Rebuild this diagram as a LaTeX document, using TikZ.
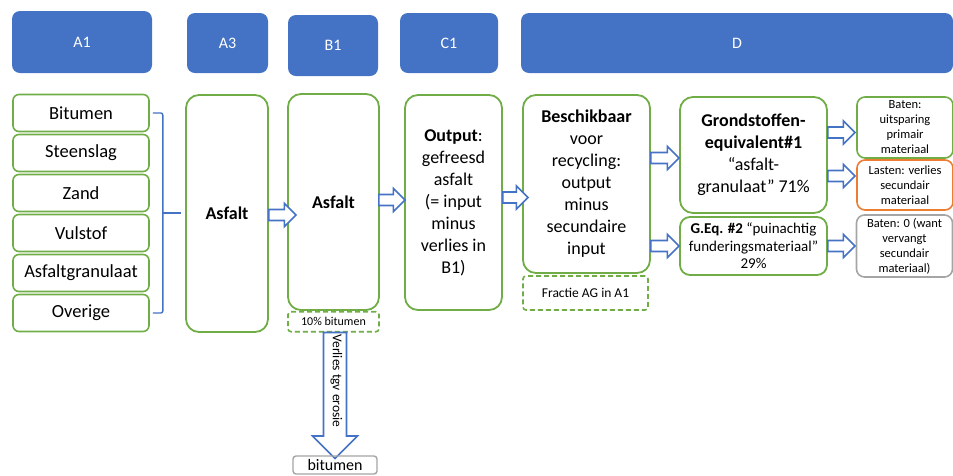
\documentclass[tikz,border=0pt]{standalone}
\usepackage{fontspec}
\setmainfont{Carlito}
\usepackage{tikz}
\usetikzlibrary{positioning,calc}
\definecolor{hdrblue}{HTML}{4472C4}
\definecolor{boxgreen}{HTML}{70AD47}
\definecolor{lastorange}{HTML}{ED7D31}
\definecolor{restgrey}{HTML}{A5A5A5}

\tikzset{
  pics/blockarrow/.style n args={3}{code={
    \draw[draw=hdrblue, fill=white, line width=1.6pt]
      (0,-#2) -- ({#1-#3},-#2) -- ({#1-#3},-#3) -- (#1,0) -- ({#1-#3},#3) -- ({#1-#3},#2) -- (0,#2) -- cycle;
  }}
}

\begin{document}
\begin{tikzpicture}[x=1pt, y=-1pt,
  header/.style={rectangle, rounded corners=8pt, fill=hdrblue, text=white, font=\fontsize{16}{19}\selectfont, inner sep=0pt},
  inbox/.style={rectangle, rounded corners=6pt, draw=boxgreen, line width=1.6pt, minimum width=136pt, minimum height=37pt, inner sep=0pt, font=\fontsize{18.5}{22}\selectfont},
  stage/.style={rectangle, rounded corners=13pt, draw=boxgreen, line width=1.8pt, align=center, inner sep=0pt, font=\fontsize{18}{22}\selectfont},
  note/.style={rectangle, rounded corners=3pt, draw=boxgreen, line width=1.6pt, dash pattern=on 5pt off 3pt, inner sep=0pt},
  result/.style={rectangle, rounded corners=8pt, line width=1.6pt, align=center, minimum width=96pt, inner sep=0pt, font=\fontsize{12.5}{15}\selectfont},
  brace/.style={draw=hdrblue, line width=1.4pt, rounded corners=2pt}]

 \useasboundingbox (0,0) rectangle (953,475);

 % phase headers
 \node[header, minimum width=140pt, minimum height=62pt] (hA1) at (82,42) {A1};
 \node[header, minimum width=81pt, minimum height=60pt] (hA3) at (227.5,43) {A3};
 \node[header, minimum width=90pt, minimum height=61pt] (hB1) at (333,45.5) {B1};
 \node[header, minimum width=98pt, minimum height=60pt] (hC1) at (449,43) {C1};
 \node[header, minimum width=432pt, minimum height=60pt] (hD) at (737,43) {D};

 % A1: grondstoffen
 \node[inbox] (in1) at (81,113) {Bitumen};
 \node[inbox] (in2) at (81,153) {Steenslag};
 \node[inbox] (in3) at (81,193) {Zand};
 \node[inbox] (in4) at (81,233) {Vulstof};
 \node[inbox] (in5) at (81,273) {Asfaltgranulaat};
 \node[inbox] (in6) at (81,313) {Overige};

 \draw[brace] ([xshift=3pt]in1.east) -- ++(10,0) -- ([xshift=13pt]in6.east) -- ([xshift=3pt]in6.east);
 \coordinate (bracemid) at ($(in1.east)!.5!(in6.east)+(13,0)$);

 % A3, B1, C1
 \node[stage, minimum width=82pt, minimum height=237pt] (a3) at (227,213.5) {\textbf{Asfalt}};
 \draw[brace, shorten >=4pt] (bracemid) -- (bracemid -| a3.west);

 \node[stage, minimum width=91pt, minimum height=216pt] (b1) at (333.5,202) {\textbf{Asfalt}};
 \node[note, minimum width=91pt, minimum height=20pt, anchor=north, font=\fontsize{12}{14}\selectfont] (bitloss) at (b1.south) {10\% bitumen};

 \node[stage, minimum width=97pt, minimum height=215pt] (c1) at (453.5,202.5)
   {\textbf{Output}:\\gefreesd\\asfalt\\(= input\\minus\\verlies in\\B1)};

 % D
 \node[stage, minimum width=127pt, minimum height=178pt] (besch) at (586.5,184)
   {\textbf{Beschikbaar}\\voor\\recycling:\\output\\minus\\secundaire\\input};
 \node[note, minimum width=125pt, minimum height=34pt, font=\fontsize{13.5}{16}\selectfont] (fractie) at (585.5,293) {Fractie AG in A1};

 \node[stage, minimum width=147pt, minimum height=116pt] (gr1) at (753.5,155)
   {\textbf{Grondstoffen-}\\\textbf{equivalent\#1}\\“asfalt-\\granulaat” 71\%};
 \node[stage, rounded corners=10pt, minimum width=147pt, minimum height=58pt, font=\fontsize{15}{17.5}\selectfont] (geq2) at (753.5,246)
   {\textbf{G.Eq. \#2} “puinachtig\\funderingsmateriaal”\\29\%};

 \node[result, draw=boxgreen, minimum height=61pt] (baten1) at (905,127.5) {Baten:\\uitsparing\\primair\\materiaal};
 \node[result, draw=lastorange, minimum height=50pt] (lasten) at (905,185) {Lasten: verlies\\secundair\\materiaal};
 \node[result, draw=restgrey, minimum height=62pt] (baten0) at (904.5,246) {Baten: 0 (want\\vervangt\\secundair\\materiaal)};

 % pijlen
 \pic at ($(a3.east)+(0,1.5)$) {blockarrow={27}{5.5}{11.5}};
 \pic at ($(b1.east)+(-1,-2)$) {blockarrow={26}{5.5}{11.5}};
 \pic at ($(c1.east)+(0,-5)$) {blockarrow={25}{5.5}{11.5}};
 \pic at ($(besch.east |- gr1.west)+(0,3)$) {blockarrow={28}{5.5}{11.5}};
 \pic at (besch.east |- geq2.west) {blockarrow={28}{5.5}{11.5}};
 \pic at ($(gr1.east |- baten1.west)+(0,5)$) {blockarrow={27}{5.5}{11.5}};
 \pic at ($(gr1.east |- lasten.west)+(0,-9)$) {blockarrow={27}{5.5}{11.5}};
 \pic at (geq2.east |- baten0.west) {blockarrow={27}{5.5}{11.5}};

 % verlies B1
 \pic[rotate=-90] at ($(bitloss.south)+(1.5,0)$) {blockarrow={126}{11.5}{22.5}};
 \node[rotate=-90, font=\fontsize{13.5}{16}\selectfont] (losstext) at (336.5,381) {Verlies tgv erosie};
 \node[rectangle, rounded corners=3pt, draw=restgrey, line width=1.4pt, minimum width=84pt, minimum height=18pt, inner sep=0pt, font=\fontsize{16}{18}\selectfont] (bitout) at (335,465) {bitumen};
\end{tikzpicture}
\end{document}
